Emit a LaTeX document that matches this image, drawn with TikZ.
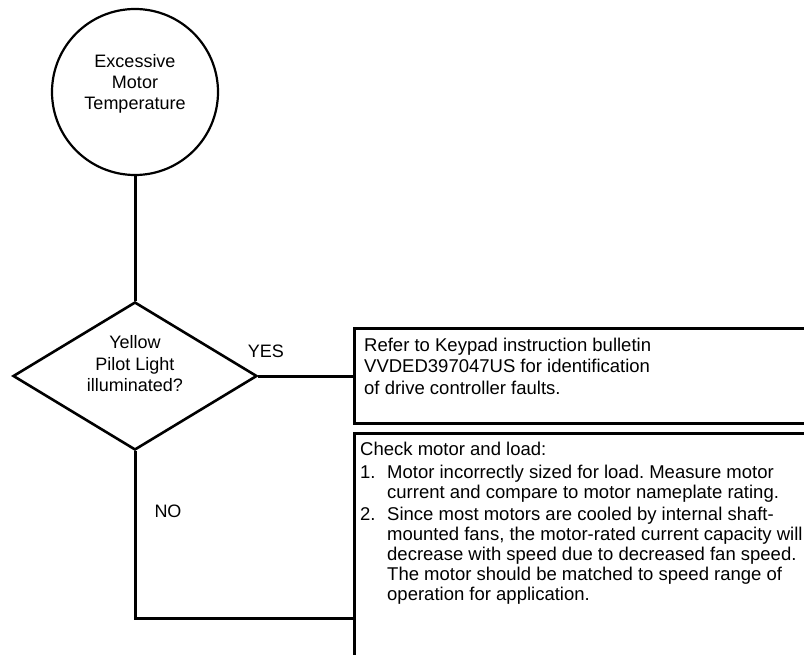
\documentclass[tikz,border=0pt]{standalone}
\usepackage{fontspec}
\setmainfont{Liberation Sans}
\frenchspacing
\usetikzlibrary{shapes.geometric}
\tikzset{
  flowline/.style={line width=3pt},
  startnode/.style={circle, draw, line width=2.2pt, minimum size=166pt, inner sep=0pt},
  decision/.style={diamond, draw, line width=2.6pt, minimum width=244pt, minimum height=148pt, inner sep=0pt},
  notebox/.style={rectangle, draw, line width=3pt, anchor=north west, minimum width=487pt, inner sep=0pt},
  shapetext/.style={align=center, inner sep=0pt, font=\fontsize{18}{20.8}\selectfont},
  notetext/.style={anchor=north west, align=left, inner sep=0pt, font=\fontsize{18.5}{21.5}\selectfont}
}
\begin{document}
\begin{tikzpicture}[x=1pt,y=-1pt]
  \useasboundingbox (0,0) rectangle (804,655);
  \clip (0,0) rectangle (804,655);
  % shapes
  \node[startnode] (start) at (135,92) {};
  \node[shapetext] (starttext) at (135,84) {Excessive\\Motor\\Temperature};
  \node[decision] (pilot) at (135,376) {};
  \node[shapetext, font=\fontsize{18}{21.5}\selectfont] (pilottext) at (135,364) {Yellow\\Pilot Light\\illuminated?};
  \node[notebox, minimum height=95pt] (keypad) at (353,327) {};
  \node[notebox, minimum height=370pt] (motor) at (353,432) {};
  % texts in the boxes
  \node[notetext] (keypadtext) at (364,337.5) {Refer to Keypad instruction bulletin\\
    VVDED397047US for identification\\
    of drive controller faults.};
  \node[notetext, font=\fontsize{18.5}{20}\selectfont] (motortext) at (360,441.5) {Check motor and load:\\[3pt]
    \makebox[27pt][l]{1.}Motor incorrectly sized for load. Measure motor\\
    \hspace*{27pt}current and compare to motor nameplate rating.\\[2pt]
    \makebox[27pt][l]{2.}Since most motors are cooled by internal shaft-\\
    \hspace*{27pt}mounted fans, the motor-rated current capacity will\\
    \hspace*{27pt}decrease with speed due to decreased fan speed.\\
    \hspace*{27pt}The motor should be matched to speed range of\\
    \hspace*{27pt}operation for application.};
  % connectors
  \begin{scope}[flowline]
    \draw (start) -- (pilot);
    \draw (pilot.east) -- (pilot.east -| keypad.west)
      node[pos=0.08, above=17pt, font=\fontsize{18}{20}\selectfont, inner sep=0pt] (yes) {YES};
    \draw (pilot.south) |- (motor.west)
      node[pos=0.18, right=18pt, font=\fontsize{18}{20}\selectfont, inner sep=0pt] (no) {NO};
  \end{scope}
\end{tikzpicture}
\end{document}
